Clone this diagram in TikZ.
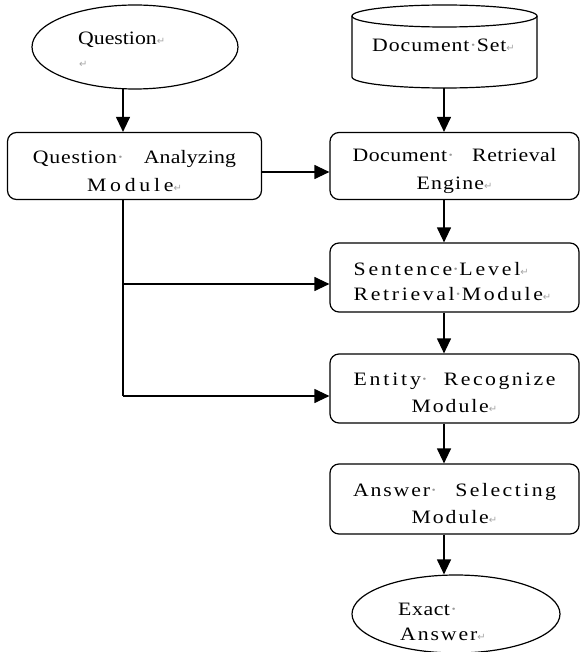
\documentclass[tikz,border=0pt]{standalone}
\usepackage{fontspec}
\usetikzlibrary{arrows.meta,shapes.geometric}
\setmainfont{Liberation Serif}[FakeStretch=1.15]
\newfontfamily\symfont{DejaVu Sans}
\newcommand\ret{{\color{gray!70}\symfont\fontsize{10}{10}\selectfont ↵}}
\newcommand\md{{\color{gray!80}·}}
\newcommand\LS[2]{{\addfontfeature{LetterSpace=#1}#2}}
\tikzset{
  box/.style={draw, line width=1.2pt, rounded corners=9bp, minimum width=249bp, minimum height=68bp, inner sep=0pt},
  txt/.style={font=\fontsize{19}{27.5}\selectfont, inner sep=0pt},
  arr/.style={line width=1.2pt, -{Triangle[length=15bp,width=14bp]}},
  ln/.style={line width=1.2pt}
}
\begin{document}
\begin{tikzpicture}[x=1bp,y=-1bp]
\useasboundingbox (0,0) rectangle (580,652);
\fill[white] (0,0) rectangle (580,652);
% question ellipse
\node (q) [draw, line width=1.2pt, ellipse, minimum width=206bp, minimum height=84bp, inner sep=0pt] at (135,47) {};
\node (qt) [txt, anchor=base west] at (78,45) {Question\ret};
\node (qr) [txt, anchor=base west] at (79,68) {\ret};
% cylinder
\draw[line width=1.2pt, fill=white] (352,16) -- (352,77) arc[start angle=180, end angle=360, x radius=92.5, y radius=-11] -- (537,16);
\draw[line width=1.2pt] (444.5,16) ellipse[x radius=92.5, y radius=11];
\coordinate (dsb) at (444,88);
\node (dst) [txt, anchor=base west] at (372,52) {\LS{5}{Document}\md\LS{5}{Set}\ret};
% boxes
\node (qam) [box, minimum width=254bp, minimum height=67bp] at (134.5,166) {};
\node (qamt) [txt, align=center] at ([yshift=-5bp]qam.center) {\makebox[203bp][s]{\LS{4}{Question}\md\hfill \LS{1}{Analyzing}}\\\LS{20}{Module}\ret};
\node (dre) [box, minimum height=67bp] at (454.5,166) {};
\node (dret) [txt, align=center] at ([yshift=-5bp]dre.center) {\makebox[204bp][s]{\LS{3}{Document}\md\hfill \LS{3}{Retrieval}}\\\LS{6}{Engine}\ret};
\node (slr) [box, minimum height=69bp] at (454.5,277.5) {};
\node (slrt) [txt, align=left, font=\fontsize{19}{26}\selectfont] at ([yshift=-4bp, xshift=-2bp]slr.center) {\LS{15}{Sentence}\md\LS{15}{Level}\ret\\\LS{14}{Retrieval}\md\LS{14}{Module}\ret};
\node (erm) [box, minimum height=69bp] at (454.5,388.5) {};
\node (ermt) [txt, align=center] at ([yshift=-4.5bp]erm.center) {\makebox[202bp][s]{\LS{15}{Entity}\md\hfill \LS{13}{Recognize}}\\\LS{10}{Module}\ret};
\node (asm) [box, minimum height=70bp] at (454.5,499) {};
\node (asmt) [txt, align=center] at ([yshift=-4.5bp]asm.center) {\makebox[203bp][s]{\LS{10}{Answer}\md\hfill \LS{13}{Selecting}}\\\LS{10}{Module}\ret};
% exact answer
\begin{scope}
\clip (0,0) rectangle (580,652);
\node (ea) [draw, line width=1.2pt, ellipse, minimum width=208bp, minimum height=78bp, inner sep=0pt] at (456,614) {};
\end{scope}
\node (eat1) [txt, anchor=base west] at (398,615) {\LS{3}{Exact}\md};
\node (eat2) [txt, anchor=base west] at (400,640) {\LS{10}{Answer}\ret};
% connectors
\coordinate (qs) at (123,89);
\draw[arr] (qs) -- (qs |- qam.north);
\draw[arr] (dsb) -- (dre.north -| dsb);
\draw[arr] (qam.east |- 0,172) -- (dre.west |- 0,172);
\draw[arr] (dre.south -| dsb) -- (slr.north -| dsb);
\draw[arr] (slr.south -| dsb) -- (erm.north -| dsb);
\draw[arr] (erm.south -| dsb) -- (asm.north -| dsb);
\draw[arr] (asm.south -| dsb) -- (ea.north -| dsb);
\coordinate (tr) at (123,396);
\coordinate (tb) at (123,284);
\draw[ln] (qam.south -| tr) -- (tr);
\draw[arr] (tb) -- (slr.west |- tb);
\draw[arr] (tr) -- (erm.west |- tr);
\end{tikzpicture}
\end{document}
